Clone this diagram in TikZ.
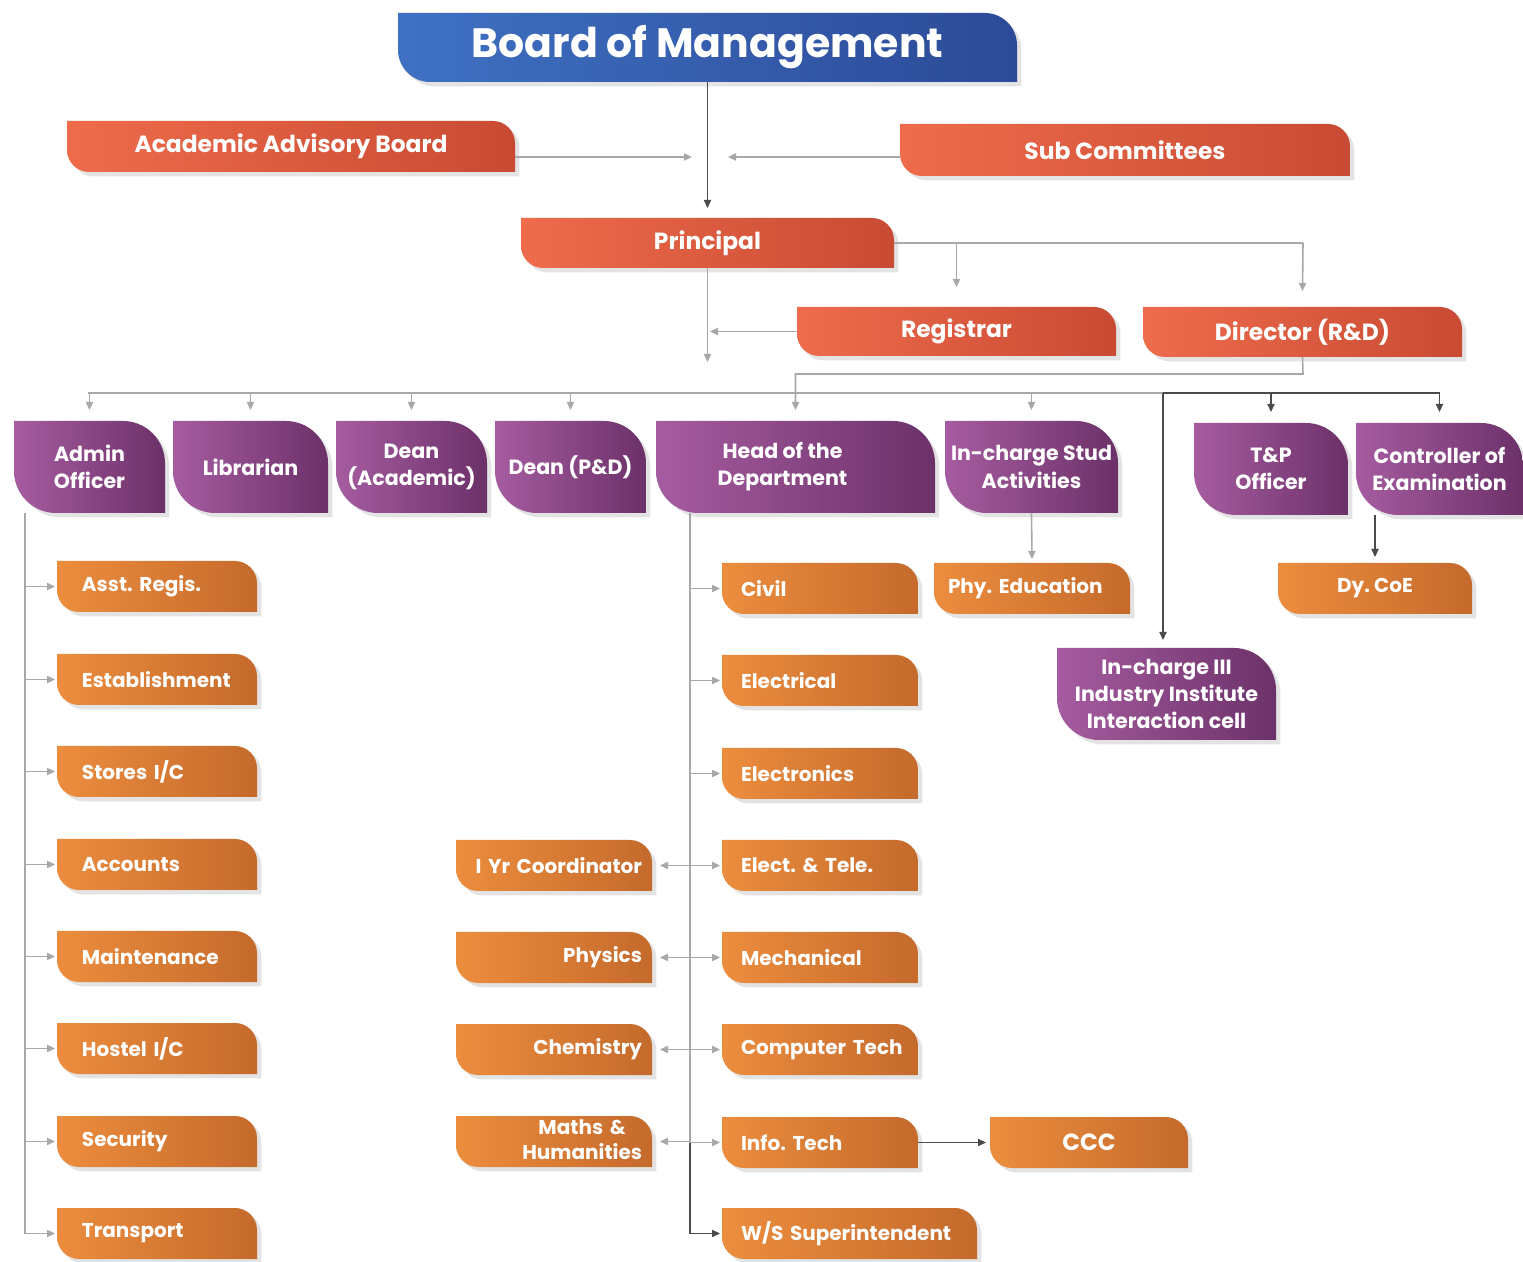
\documentclass[tikz,border=0pt]{standalone}
\usepackage{fontspec}
\setmainfont{Poppins}
\usetikzlibrary{arrows.meta,backgrounds,shadows}
\definecolor{blueL}{HTML}{3F71C3}
\definecolor{blueR}{HTML}{2C4A97}
\definecolor{redL}{HTML}{EE6C4C}
\definecolor{redR}{HTML}{C94A33}
\definecolor{purL}{HTML}{A65CA0}
\definecolor{purR}{HTML}{6C3169}
\definecolor{orL}{HTML}{EC8D3E}
\definecolor{orR}{HTML}{C46A2B}
\definecolor{lineG}{HTML}{A8A8A8}
\definecolor{lineD}{HTML}{4A4A4A}
\newcommand\leafpath[3]{%
  \path[#3] (#1.north west) -- ([xshift=-#2]#1.north east)
    .. controls ([xshift=-0.45*#2]#1.north east) and ([yshift=-0.45*#2]#1.north east) .. ([yshift=-#2]#1.north east)
    -- (#1.south east) -- ([xshift=#2]#1.south west)
    .. controls ([xshift=0.45*#2]#1.south west) and ([yshift=0.45*#2]#1.south west) .. ([yshift=#2]#1.south west)
    -- cycle;}
\tikzset{
  shd/.style={drop shadow={opacity=0.22,shadow xshift=2.2pt,shadow yshift=-2.2pt}},
  bluefill/.style={left color=blueL,right color=blueR,shd},
  redfill/.style={left color=redL,right color=redR,shd},
  purfill/.style={left color=purL,right color=purR,shd},
  orfill/.style={left color=orL,right color=orR,shd},
  base/.style={anchor=north west,inner ysep=0pt,inner xsep=0pt,outer sep=0pt,text=white},
  fb/.style={font=\frenchspacing\bfseries\fontsize{20.5}{24}\selectfont},
  fr/.style={font=\frenchspacing\bfseries\fontsize{11.7}{14}\selectfont},
  fp/.style={font=\frenchspacing\bfseries\fontsize{10.3}{13.6}\selectfont},
  fo/.style={font=\frenchspacing\bfseries\fontsize{10}{12.5}\selectfont},
  gl/.style={draw=lineG,line width=0.8pt},
  dl/.style={draw=lineD,line width=0.6pt},
  arr/.style={-{Triangle[length=4pt,width=3.6pt]}},
  lbox/.style={base,fo,minimum height=25.5pt,text width=75pt,inner xsep=12.5pt,align=left},
  dbox/.style={base,fo,minimum height=25.5pt,text width=79pt,inner xsep=9.5pt,align=left},
  mbox/.style={base,fo,minimum height=25.5pt,text width=88pt,inner xsep=5pt,align=right},
  pbox/.style={base,fp,minimum height=46pt,align=center},
}
\begin{document}
\begin{tikzpicture}[x=0.5pt,y=-0.5pt]
\useasboundingbox (0,0) rectangle (1523,1262);
% top level
\node[base,fb,minimum width=309.5pt,minimum height=34.5pt] (board) at (398,13) {Board of Management};
\node[base,fr,minimum width=224pt,minimum height=25.5pt] (aab) at (67,121) {Academic Advisory Board};
\node[base,fr,minimum width=225pt,minimum height=26pt] (sub) at (900,124) {Sub Committees};
\node[base,fr,minimum width=186.5pt,minimum height=25pt] (prin) at (521,218) {Principal};
\node[base,fr,minimum width=159.5pt,minimum height=24.5pt] (reg) at (797,307) {Registrar};
\node[base,fr,minimum width=159.5pt,minimum height=25pt] (dir) at (1143,307) {Director (R\&D)};
% purple row
\node[pbox,minimum width=75.5pt] (admin) at (14,421) {Admin\\Officer};
\node[pbox,minimum width=77.5pt] (lib) at (173,421) {Librarian};
\node[pbox,minimum width=75.5pt] (deanA) at (336,421) {Dean\\(Academic)};
\node[pbox,minimum width=75.5pt] (deanP) at (495,421) {Dean (P\&D)};
\node[pbox,minimum width=139.5pt] (hod) at (656,421) {Head of the\hspace*{13pt}\\Department\hspace*{13pt}};
\node[pbox,minimum width=86.5pt] (stud) at (945,421) {In-charge Stud\\Activities};
\node[pbox,minimum width=77pt] (tp) at (1194,423) {T\&P\\Officer};
\node[pbox,minimum width=83.5pt] (coe) at (1356,423) {Controller of\\Examination};
\node[pbox,minimum width=109.5pt] (iii) at (1057,648) {In-charge III\\Industry Institute\\Interaction cell};
% admin column
\node[lbox] (asst) at (57,561) {\mbox{Asst. Regis.}};
\node[lbox] (est) at (57,654) {\mbox{Establishment}};
\node[lbox] (stores) at (57,746) {\mbox{Stores I/C}};
\node[lbox] (acc) at (57,839) {\mbox{Accounts}};
\node[lbox] (maint) at (57,931) {\mbox{Maintenance}};
\node[lbox] (hostel) at (57,1023) {\mbox{Hostel I/C}};
\node[lbox] (sec) at (57,1116) {\mbox{Security}};
\node[lbox] (trans) at (57,1208) {\mbox{Transport}};
% middle column
\node[mbox] (iyr) at (456,840) {\mbox{I Yr Coordinator}};
\node[mbox] (phys) at (456,932) {\mbox{Physics}};
\node[mbox] (chem) at (456,1024) {\mbox{Chemistry}};
\node[mbox] (maths) at (456,1116) {\begin{tabular}{@{}c@{}}Maths \&\\Humanities\end{tabular}};
% departments
\node[dbox] (civil) at (722,563) {\mbox{Civil}};
\node[dbox] (elec) at (722,655) {\mbox{Electrical}};
\node[dbox] (etron) at (722,748) {\mbox{Electronics}};
\node[dbox] (etc) at (722,840) {\mbox{Elect. \& Tele.}};
\node[dbox] (mech) at (722,932) {\mbox{Mechanical}};
\node[dbox] (comp) at (722,1024) {\mbox{Computer Tech}};
\node[dbox] (it) at (722,1117) {\mbox{Info. Tech}};
\node[dbox,text width=108.5pt] (ws) at (722,1208) {\mbox{W/S Superintendent}};
% others
\node[dbox,text width=84pt,inner xsep=7pt] (phy) at (934,563) {\mbox{Phy. Education}};
\node[base,fo,minimum width=97pt,minimum height=25.5pt] (dycoe) at (1278,563) {Dy. CoE};
\node[base,fr,minimum width=99pt,minimum height=25.5pt] (ccc) at (990,1117) {CCC};
% shapes
\begin{scope}[on background layer]
\fill[white] (0,0) rectangle (1523,1262);
\leafpath{board}{16pt}{bluefill}
\leafpath{aab}{11pt}{redfill}
\leafpath{sub}{11pt}{redfill}
\leafpath{prin}{11pt}{redfill}
\leafpath{reg}{11pt}{redfill}
\leafpath{dir}{11pt}{redfill}
\leafpath{admin}{21pt}{purfill}
\leafpath{lib}{21pt}{purfill}
\leafpath{deanA}{21pt}{purfill}
\leafpath{deanP}{21pt}{purfill}
\leafpath{hod}{21pt}{purfill}
\leafpath{stud}{21pt}{purfill}
\leafpath{tp}{21pt}{purfill}
\leafpath{coe}{21pt}{purfill}
\leafpath{iii}{21pt}{purfill}
\leafpath{asst}{11pt}{orfill}
\leafpath{est}{11pt}{orfill}
\leafpath{stores}{11pt}{orfill}
\leafpath{acc}{11pt}{orfill}
\leafpath{maint}{11pt}{orfill}
\leafpath{hostel}{11pt}{orfill}
\leafpath{sec}{11pt}{orfill}
\leafpath{trans}{11pt}{orfill}
\leafpath{iyr}{11pt}{orfill}
\leafpath{phys}{11pt}{orfill}
\leafpath{chem}{11pt}{orfill}
\leafpath{maths}{11pt}{orfill}
\leafpath{civil}{11pt}{orfill}
\leafpath{elec}{11pt}{orfill}
\leafpath{etron}{11pt}{orfill}
\leafpath{etc}{11pt}{orfill}
\leafpath{mech}{11pt}{orfill}
\leafpath{comp}{11pt}{orfill}
\leafpath{it}{11pt}{orfill}
\leafpath{ws}{11pt}{orfill}
\leafpath{phy}{11pt}{orfill}
\leafpath{dycoe}{11pt}{orfill}
\leafpath{ccc}{11pt}{orfill}
\end{scope}
% connectors
\coordinate (jA) at (692,157);
\coordinate (jS) at (728,157);
\coordinate (pR) at (1303,243);
\coordinate (dH) at (1303,374);
\coordinate (bus) at (88,393);
\coordinate (busK) at (1163,393);
\coordinate (aL) at (25,513);
\coordinate (hL) at (690,513);
\draw[dl,arr] (board.south) -- ([yshift=5pt]prin.north);
\draw[gl,arr] (aab.east |- jA) -- (jA);
\draw[gl,arr] (sub.west |- jS) -- (jS);
\draw[gl] (prin.east |- pR) -- (pR);
\draw[gl,arr] (reg.north |- pR) -- ([yshift=10pt]reg.north);
\draw[gl,arr] (pR) -- ([yshift=8pt]dir.north);
\draw[gl,arr] (prin.south) -- ++(0,94);
\draw[gl,arr] (reg.west) -- ++(-87,0);
\draw[gl,arr] (dir.south) -- (dH) -- (hod.north |- dH) -- ([yshift=5.5pt]hod.north);
\draw[gl] (bus) -- (busK);
\draw[dl] (busK) -- (coe.north |- busK);
\foreach \n in {admin,lib,deanA,deanP,stud}
  \draw[gl,arr] (\n.north |- bus) -- ([yshift=5.5pt]\n.north);
\foreach \n in {tp,coe}
  \draw[dl,arr] (\n.north |- bus) -- ([yshift=5.5pt]\n.north);
\draw[dl,arr] (busK) -- ([yshift=4pt]iii.north -| busK);
\draw[gl] (aL) -- (aL |- trans.west);
\foreach \n in {asst,est,stores,acc,maint,hostel,sec,trans}
  \draw[gl,arr,shorten >=1pt] (aL |- \n.west) -- (\n.west);
\draw[gl] (hL) -- (hL |- it.west);
\draw[dl] (hL |- it.west) -- (hL |- ws.west);
\draw[dl,arr,shorten >=1pt] (hL |- ws.west) -- (ws.west);
\foreach \n in {civil,elec,etron,etc,mech,comp,it}
  \draw[gl,arr,shorten >=1pt] (hL |- \n.west) -- (\n.west);
\foreach \n in {iyr,phys,chem,maths}
  \draw[gl,arr,shorten >=4pt] (hL |- \n.east) -- (\n.east);
\draw[gl,arr] (stud.south) -- ([yshift=2pt]phy.north);
\draw[dl,arr] (dycoe.north |- coe.south) -- ([yshift=3pt]dycoe.north);
\draw[dl,arr,shorten >=2pt] (it.east) -- (ccc.west);
\end{tikzpicture}
\end{document}
